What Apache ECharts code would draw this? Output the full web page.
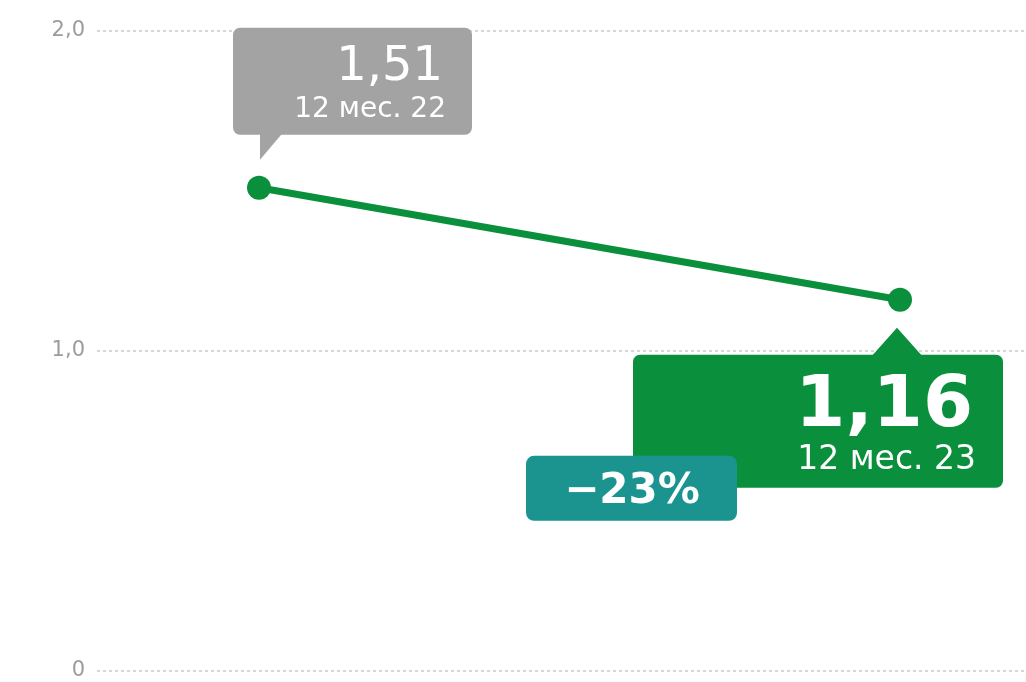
<!DOCTYPE html>
<html><head><meta charset="utf-8">
<script src="https://cdn.jsdelivr.net/npm/echarts@6/dist/echarts.min.js"></script>
<style>html,body{margin:0;padding:0;background:#fff}#c{width:1026px;height:682px}</style>
</head><body><div id="c"></div>
<script>
const categories = ['12 мес. 22', '12 мес. 23'];
const values = [1.51, 1.16];
const valueLabels = ['1,51', '1,16'];
const changeLabel = '−23%';
const yTicks = [0, 1, 2];

const GREEN = '#0a8f3d', GRAY = '#a3a3a3', TEAL = '#1b9490';
const FONT = '"DejaVu Sans", "Liberation Sans", Arial, sans-serif';

function callout(params, api) {
  const i = params.dataIndex;
  const p = api.coord([api.value(0), api.value(1)]);
  const x = p[0], y = p[1];
  const kids = [];
  if (i === 0) {
    kids.push({type:'rect', shape:{x:x-26, y:y-160, width:239, height:107, r:7}, style:{fill:GRAY}});
    kids.push({type:'polygon', shape:{points:[[x+1,y-54],[x+23,y-54],[x+1,y-28]]}, style:{fill:GRAY}});
    kids.push({type:'text', style:{x:x+184, y:y-120, text:valueLabels[0], fill:'#fff', font:'normal 48px '+FONT, textAlign:'right', textVerticalAlign:'middle'}});
    kids.push({type:'text', style:{x:x+187, y:y-78, text:categories[0], fill:'#fff', font:'normal 28px '+FONT, textAlign:'right', textVerticalAlign:'middle'}});
  } else {
    kids.push({type:'rect', shape:{x:x-267, y:y+55, width:370, height:133, r:7}, style:{fill:GREEN}});
    kids.push({type:'polygon', shape:{points:[[x-28,y+56],[x+22,y+56],[x-3,y+28]]}, style:{fill:GREEN}});
    kids.push({type:'text', style:{x:x+73, y:y+107, text:valueLabels[1], fill:'#fff', font:'bold 72px '+FONT, textAlign:'right', textVerticalAlign:'middle'}});
    kids.push({type:'text', style:{x:x+76, y:y+161, text:categories[1], fill:'#fff', font:'normal 33px '+FONT, textAlign:'right', textVerticalAlign:'middle'}});
    kids.push({type:'rect', shape:{x:x-374, y:y+156, width:211, height:65, r:8}, style:{fill:TEAL}});
    kids.push({type:'text', style:{x:x-268, y:y+192, text:changeLabel, fill:'#fff', font:'bold 42px '+FONT, textAlign:'center', textVerticalAlign:'middle'}});
  }
  return {type:'group', children:kids};
}

const chart = echarts.init(document.getElementById('c'));
chart.setOption({
  animation:false,
  grid:[
    {left:97, right:0, top:31, bottom:11},
    {left:259, right:126, top:31, bottom:11}
  ],
  xAxis:[
    {gridIndex:0, type:'category', data:categories, show:false},
    {gridIndex:1, type:'category', data:categories, boundaryGap:false, show:false}
  ],
  yAxis:[
    {gridIndex:0, type:'value', min:yTicks[0], max:yTicks[yTicks.length-1], interval:1,
     axisLine:{show:false}, axisTick:{show:false},
     axisLabel:{color:'#9c9c9c', fontSize:21, fontFamily:FONT, margin:12,
       formatter:v => v === 0 ? '0' : v.toFixed(1).replace('.', ',')},
     splitLine:{lineStyle:{color:'#d6d6d6', width:2, type:[3,3]}}},
    {gridIndex:1, type:'value', min:0, max:2, show:false, splitLine:{show:false}}
  ],
  series:[
    {type:'line', xAxisIndex:1, yAxisIndex:1, data:values, symbol:'circle', symbolSize:24,
     lineStyle:{color:GREEN, width:7}, itemStyle:{color:GREEN}, z:3},
    {type:'custom', xAxisIndex:1, yAxisIndex:1, clip:false, z:5,
     data:values.map((v,i)=>[i,v]), renderItem:callout}
  ]
});
</script></body></html>
